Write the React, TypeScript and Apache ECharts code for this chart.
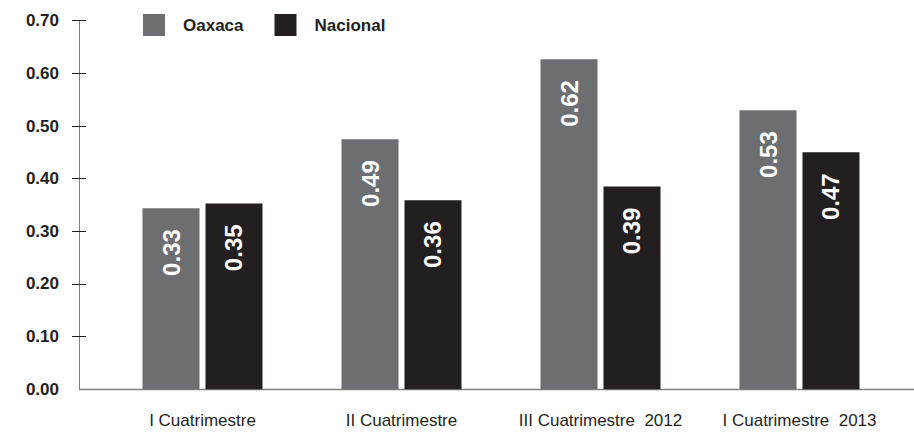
import React, { useEffect, useRef } from "react";
import * as echarts from "echarts";

const categories = ["I Cuatrimestre", "II Cuatrimestre", "III Cuatrimestre  2012", "I Cuatrimestre  2013"];
const oaxacaValues = [0.344, 0.475, 0.627, 0.53];
const nacionalValues = [0.353, 0.359, 0.385, 0.45];
const oaxacaLabels = ["0.33", "0.49", "0.62", "0.53"];
const nacionalLabels = ["0.35", "0.36", "0.39", "0.47"];
const yTicks = [0.1, 0.2, 0.3, 0.4, 0.5, 0.6, 0.7];

const SANS = "'Liberation Sans', Arial, sans-serif";

export default function App() {
  const ref = useRef<HTMLDivElement>(null);
  useEffect(() => {
    const chart = echarts.init(ref.current!, null, { renderer: "svg" });
    const barLabel = (labels: string[]) => ({
      show: true,
      position: "insideTop",
      rotate: 90,
      align: "right",
      verticalAlign: "middle",
      distance: 21,
      color: "#ffffff",
      fontFamily: SANS,
      fontWeight: "bold",
      fontSize: 24,
      formatter: (p: any) => labels[p.dataIndex],
    });
    chart.setOption({
      animation: false,
      backgroundColor: "#ffffff",
      grid: { left: 103, right: 15, top: 20.7, bottom: 42.7, containLabel: false },
      legend: {
        left: 143,
        top: 14,
        padding: 0,
        itemWidth: 22,
        itemHeight: 22,
        itemGap: 31,
        icon: "rect",
        textStyle: {
          fontFamily: SANS,
          fontWeight: "bold",
          fontSize: 17,
          color: "#231f20",
          padding: [0, 0, 0, 13],
        },
        data: ["Oaxaca", "Nacional"],
      },
      xAxis: {
        type: "category",
        data: categories,
        axisLine: { show: false },
        axisTick: { show: false },
        axisLabel: {
          margin: 23,
          fontFamily: SANS,
          fontSize: 17,
          color: "#231f20",
          interval: 0,
        },
      },
      yAxis: [
        {
          type: "value",
          min: 0,
          max: 0.7,
          interval: 0.1,
          offset: 24,
          axisLine: { show: true, lineStyle: { color: "#808080", width: 1 } },
          axisTick: { show: true, length: 7, lineStyle: { color: "#231f20" }, customValues: yTicks },
          splitLine: { show: false },
          axisLabel: {
            margin: 20,
            fontFamily: SANS,
            fontWeight: "bold",
            fontSize: 17,
            color: "#231f20",
            formatter: (v: number) => v.toFixed(2),
          },
        },
        {
          type: "value",
          min: 0,
          max: 0.7,
          interval: 0.1,
          offset: 24,
          position: "left",
          axisLine: { show: false },
          axisTick: { show: true, inside: true, length: 7, lineStyle: { color: "#231f20" }, customValues: yTicks },
          splitLine: { show: false },
          axisLabel: { show: false },
        },
      ],
      graphic: [
        {
          type: "line",
          shape: { x1: 79, y1: 389.5, x2: 914, y2: 389.5 },
          style: { stroke: "#808080", lineWidth: 1.5 },
          silent: true,
        },
      ],
      series: [
        {
          name: "Oaxaca",
          type: "bar",
          data: oaxacaValues,
          barWidth: 57,
          barGap: "10.5%",
          itemStyle: { color: "#6d6e71" },
          label: barLabel(oaxacaLabels),
        },
        {
          name: "Nacional",
          type: "bar",
          data: nacionalValues,
          barWidth: 57,
          itemStyle: { color: "#231f20" },
          label: barLabel(nacionalLabels),
        },
      ],
    });
    return () => chart.dispose();
  }, []);
  return <div ref={ref} style={{ width: 914, height: 432, position: "fixed", left: 0, top: 0 }} />;
}
